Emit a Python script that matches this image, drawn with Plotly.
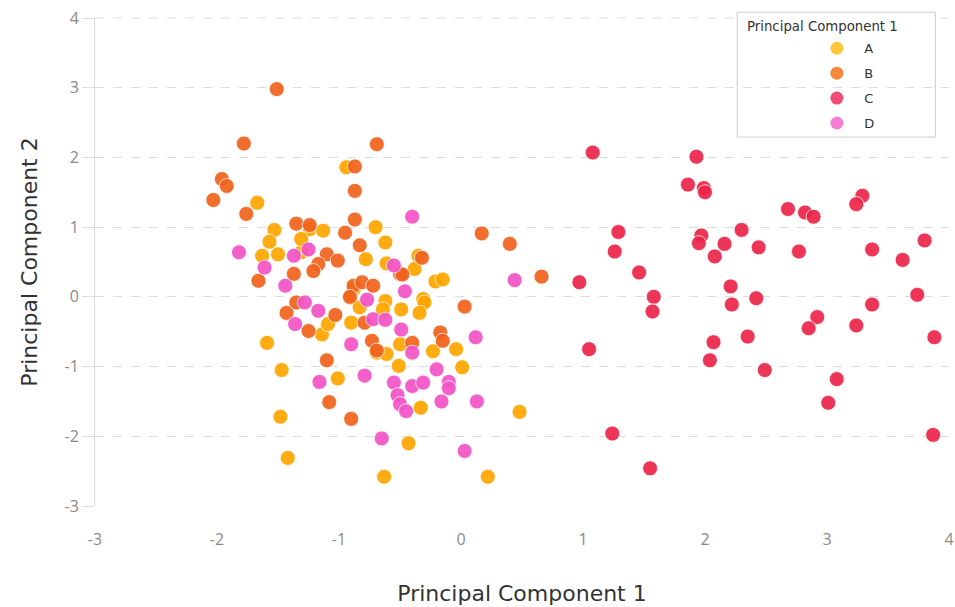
import plotly.graph_objects as go

# ---- data ----
categories = ["A", "B", "C", "D"]

a_x = [-0.94, -1.67, -1.24, -1.13, -0.70, -1.53, -1.57, -1.50, -1.63, -1.31, -1.31, -0.62,
       -0.78, -0.61, -0.35, -0.38, -0.21, -0.15, -0.31, -0.88, -0.62, -0.91, -0.83, -0.64,
       -0.49, -0.30, -0.34, -0.90, -1.14, -1.09, -1.59, -0.69, -0.61, -0.50, -0.51, -0.23,
       -0.04, 0.01, -1.47, -1.01, -1.48, -0.33, 0.48, -0.43, -1.42, -0.63, 0.22]
a_y = [1.86, 1.35, 0.97, 0.95, 1.00, 0.96, 0.79, 0.61, 0.59, 0.64, 0.83, 0.78,
       0.54, 0.48, 0.59, 0.40, 0.22, 0.25, -0.03, 0.11, -0.06, -0.01, -0.15, -0.18,
       -0.18, -0.08, -0.23, -0.37, -0.54, -0.39, -0.66, -0.80, -0.82, -0.68, -0.99, -0.78,
       -0.75, -1.01, -1.05, -1.17, -1.72, -1.59, -1.65, -2.10, -2.31, -2.58, -2.58]

b_x = [-1.51, -1.78, -0.69, -0.87, -0.87, -1.96, -1.92, -2.03, -1.76, -1.35, -1.24, -0.95,
       -0.87, -0.83, -1.10, -1.01, -1.17, -1.21, -1.37, -1.66, -0.50, -0.32, -0.48, 0.17,
       0.40, 0.66, -0.88, -0.81, -0.72, -1.35, -1.43, -1.03, -1.25, -0.79, -0.73, -0.69,
       0.03, -0.17, -0.15, -0.40, -1.10, -1.08, -0.90, -0.91]
b_y = [2.98, 2.20, 2.19, 1.87, 1.52, 1.69, 1.59, 1.39, 1.19, 1.05, 1.03, 0.92,
       1.11, 0.74, 0.61, 0.52, 0.47, 0.37, 0.33, 0.23, 0.33, 0.56, 0.32, 0.91,
       0.76, 0.29, 0.16, 0.21, 0.16, -0.08, -0.23, -0.26, -0.49, -0.37, -0.63, -0.77,
       -0.14, -0.51, -0.63, -0.66, -0.91, -1.51, -1.75, 0.00]

c_x = [1.08, 1.93, 1.86, 1.99, 2.00, 1.29, 1.26, 1.97, 1.95, 2.30, 2.16, 2.08,
       2.44, 1.46, 0.97, 1.58, 1.57, 2.21, 2.22, 2.42, 1.05, 2.07, 2.04, 2.35,
       2.49, 1.24, 1.55, 2.68, 2.82, 2.89, 3.29, 3.24, 2.77, 3.37, 3.62, 3.80,
       3.37, 3.74, 2.92, 2.85, 3.24, 3.88, 3.08, 3.01, 3.87]
c_y = [2.07, 2.01, 1.61, 1.56, 1.50, 0.93, 0.65, 0.88, 0.77, 0.96, 0.76, 0.58,
       0.71, 0.35, 0.21, 0.00, -0.21, 0.15, -0.11, -0.02, -0.75, -0.65, -0.91, -0.57,
       -1.05, -1.96, -2.46, 1.26, 1.21, 1.15, 1.45, 1.33, 0.65, 0.68, 0.53, 0.81,
       -0.11, 0.03, -0.29, -0.45, -0.41, -0.58, -1.18, -1.52, -1.98]

d_x = [-1.82, -1.61, -1.37, -1.25, -0.55, -0.40, -1.44, -0.46, -0.77, 0.44, -1.28, -1.17,
       -1.36, -0.90, -0.72, -0.62, -0.49, -0.40, 0.12, -0.20, -0.40, -0.31, -0.10, -0.10,
       -0.55, -0.52, -0.50, -0.45, -0.16, 0.13, -1.16, -0.79, -0.65, 0.03]
d_y = [0.64, 0.42, 0.59, 0.68, 0.45, 1.15, 0.16, 0.08, -0.04, 0.24, -0.08, -0.20,
       -0.39, -0.68, -0.32, -0.33, -0.47, -0.80, -0.58, -1.04, -1.28, -1.23, -1.22, -1.31,
       -1.23, -1.41, -1.54, -1.64, -1.50, -1.50, -1.22, -1.13, -2.03, -2.21]

plot_colors = ["#FFA500", "#F0621C", "#EC2549", "#F353C6"]
legend_colors = ["#FFC83A", "#F5883C", "#EE4C77", "#F57ED4"]

x_ticks = [-3, -2, -1, 0, 1, 2, 3, 4]
y_ticks = [-3, -2, -1, 0, 1, 2, 3, 4]

series = [(a_x, a_y), (b_x, b_y), (c_x, c_y), (d_x, d_y)]

fig = go.Figure()
for name, (xs, ys), col in zip(categories, series, plot_colors):
    fig.add_trace(go.Scatter(
        x=xs, y=ys, mode="markers", name=name, showlegend=False,
        cliponaxis=False,
        marker=dict(size=15, color=col, opacity=0.92,
                    line=dict(width=1, color="rgba(255,255,255,0.8)")),
    ))
for name, col in zip(categories, legend_colors):
    fig.add_trace(go.Scatter(
        x=[None], y=[None], mode="markers", name=name, legendgroup=name,
        marker=dict(size=13, color=col),
    ))

tick_font = dict(family="Open Sans", size=16, color="#8a8a8a")
title_font = dict(family="DejaVu Sans", size=22, color="#333")
fig.update_layout(
    width=955, height=607,
    margin=dict(l=95, r=6, t=18, b=101),
    paper_bgcolor="white", plot_bgcolor="white",
    font=dict(family="Open Sans", color="#444"),
    xaxis=dict(range=[-3, 4], tickvals=x_ticks, ticktext=[str(v) for v in x_ticks],
               showgrid=False, zeroline=False, showline=False, automargin=False,
               ticks="", ticklabelstandoff=22, tickfont=tick_font,
               ticklabeloverflow="allow",
               title=dict(text="Principal Component 1", standoff=36, font=title_font)),
    yaxis=dict(range=[-3, 4], tickvals=y_ticks, ticktext=[str(v) for v in y_ticks],
               showgrid=True, gridcolor="#dcdcdc", griddash="dash", gridwidth=1,
               zeroline=False, showline=True, linecolor="#d8d8d8", linewidth=1,
               automargin=False, ticklabeloverflow="allow",
               ticks="outside", ticklen=12, tickcolor="#dcdcdc", tickfont=tick_font,
               title=dict(text="Principal Component 2", standoff=20, font=title_font)),
    legend=dict(x=0.8365, y=0.9686, xanchor="left", yanchor="top",
                bgcolor="rgba(0,0,0,0)", borderwidth=0, tracegroupgap=5,
                itemwidth=45,
                font=dict(family="DejaVu Sans", size=13, color="#333")),
    showlegend=True,
)
# top gridline at the upper range edge
fig.add_shape(type="line", xref="paper", yref="paper", x0=0, x1=1, y0=1, y1=1,
              line=dict(color="#dcdcdc", width=1, dash="dash"), layer="below")
fig.add_shape(type="rect", xref="paper", yref="paper",
              x0=0.752, x1=0.984, y0=0.756, y1=1.012,
              line=dict(color="#cccccc", width=1), fillcolor="white",
              layer="below")
fig.add_annotation(text="Principal Component 1", xref="paper", yref="paper",
                   x=0.8516, y=0.982, showarrow=False, xanchor="center", yanchor="middle",
                   font=dict(family="DejaVu Sans", size=13.3, color="#333"))

fig.write_html("out.html", config={"displayModeBar": False},
               post_script="document.body.style.margin='0';")
